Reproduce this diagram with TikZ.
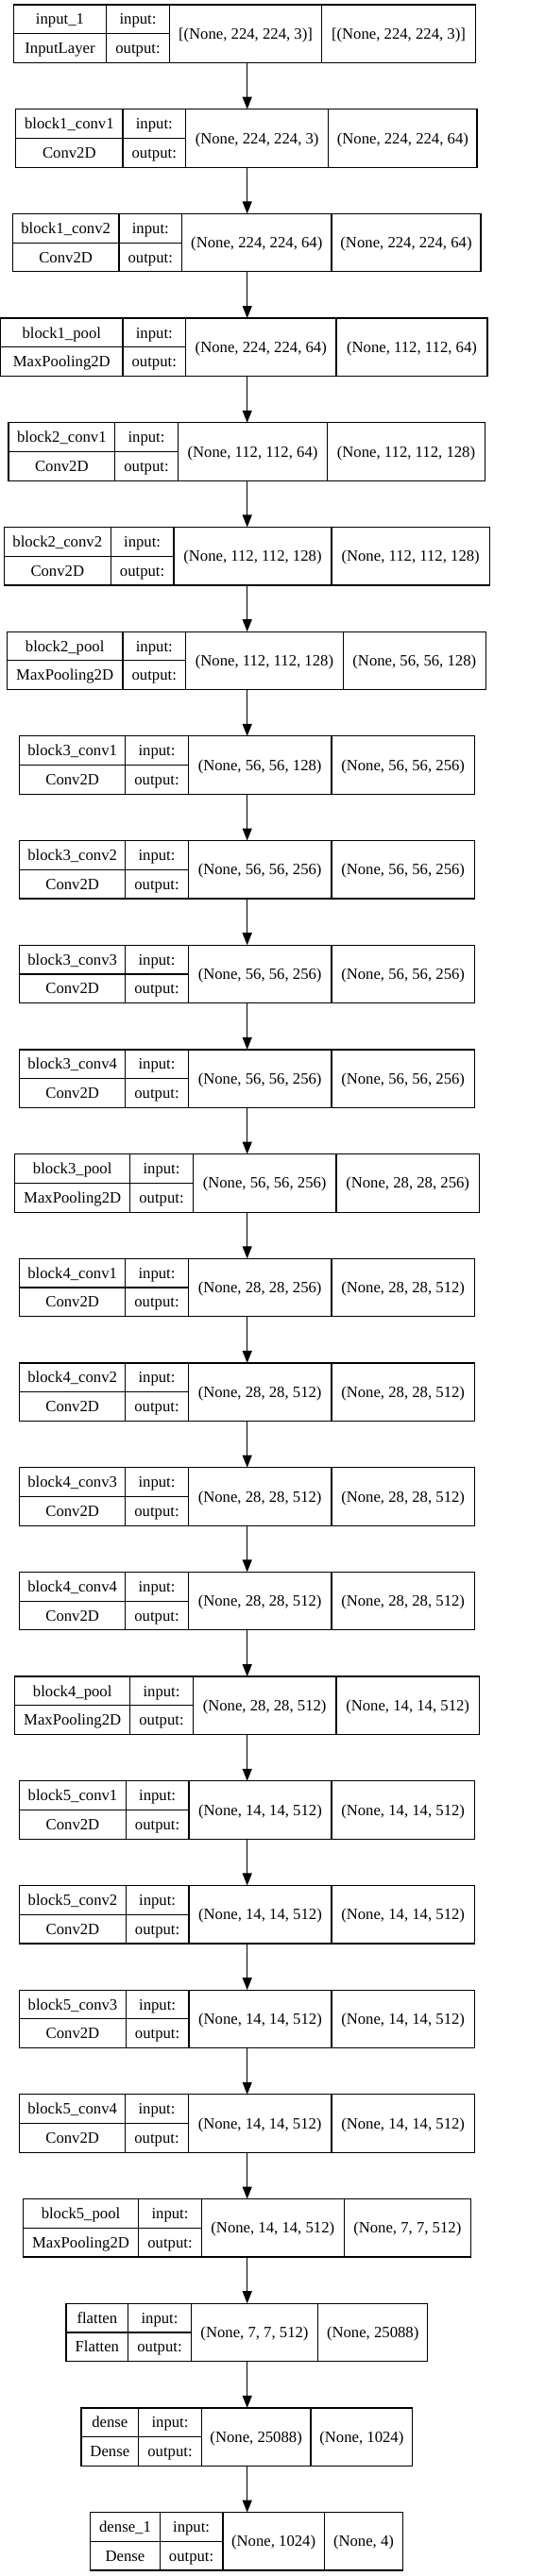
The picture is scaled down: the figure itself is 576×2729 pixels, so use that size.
\documentclass[tikz,border=0pt]{standalone}
\usepackage{fontspec}
\setmainfont{Liberation Serif}
\usetikzlibrary{arrows.meta}

\tikzset{
  rowbox/.style={draw, line width=1.2pt, inner sep=0pt, outer sep=0pt},
  cell/.style={inner sep=0pt, anchor=base},
  flow/.style={draw, line width=1.2pt, -{Triangle[length=13pt,width=10pt]}},
}

% one layer row: index, name, class, input shape, output shape, x of the cell borders
\newcommand{\layerrow}[9]{%
  \pgfmathsetmacro\rtop{5+110.69*#1}
  \pgfmathsetmacro\rbot{\rtop+61.5}
  \pgfmathsetmacro\rmid{\rtop+30.75}
  \pgfmathsetmacro\xtwo{#7+66.6}
  \node[rowbox, minimum width={(#9-#6)*1pt}, minimum height=61.5pt] (l#1) at ({(#6+#9)/2},\rmid) {};
  \draw[line width=1.2pt] (#7,\rtop) -- (#7,\rbot) (\xtwo,\rtop) -- (\xtwo,\rbot)
    (#8,\rtop) -- (#8,\rbot) (#6,\rmid) -- (\xtwo,\rmid);
  \node[cell] (l#1name) at ({(#6+#7)/2},{\rtop+21}) {#2};
  \node[cell] (l#1class) at ({(#6+#7)/2},{\rtop+51.7}) {#3};
  \node[cell] (l#1inlbl) at ({(#7+\xtwo)/2},{\rtop+21}) {input:};
  \node[cell] (l#1outlbl) at ({(#7+\xtwo)/2},{\rtop+51.7}) {output:};
  \node[cell] (l#1in) at ({(\xtwo+#8)/2},{\rmid+5.6}) {#4};
  \node[cell] (l#1out) at ({(#8+#9)/2},{\rmid+5.6}) {#5};
}

\begin{document}
\begin{tikzpicture}[x=1pt, y=-1pt, font=\fontsize{16.7}{20}\selectfont]
  \path[fill=white, use as bounding box] (0,0) rectangle (576,2729);
  \coordinate (axis) at (261.7,0);

  \layerrow{0}{input\_1}{InputLayer}{[(None, 224, 224, 3)]}{[(None, 224, 224, 3)]}{14.3}{112.7}{340.7}{503.3}
  \layerrow{1}{block1\_conv1}{Conv2D}{(None, 224, 224, 3)}{(None, 224, 224, 64)}{16.7}{130}{347.7}{505}
  \layerrow{2}{block1\_conv2}{Conv2D}{(None, 224, 224, 64)}{(None, 224, 224, 64)}{13.3}{126}{351}{509}
  \layerrow{3}{block1\_pool}{MaxPooling2D}{(None, 224, 224, 64)}{(None, 112, 112, 64)}{0.6}{130}{356}{516}
  \layerrow{4}{block2\_conv1}{Conv2D}{(None, 112, 112, 64)}{(None, 112, 112, 128)}{9}{121.7}{346.7}{513.3}
  \layerrow{5}{block2\_conv2}{Conv2D}{(None, 112, 112, 128)}{(None, 112, 112, 128)}{4.3}{117.3}{351}{518.3}
  \layerrow{6}{block2\_pool}{MaxPooling2D}{(None, 112, 112, 128)}{(None, 56, 56, 128)}{7.3}{130}{363.3}{514.3}
  \layerrow{7}{block3\_conv1}{Conv2D}{(None, 56, 56, 128)}{(None, 56, 56, 256)}{20.7}{132.7}{351}{502.3}
  \layerrow{8}{block3\_conv2}{Conv2D}{(None, 56, 56, 256)}{(None, 56, 56, 256)}{20.7}{132.7}{351}{502.3}
  \layerrow{9}{block3\_conv3}{Conv2D}{(None, 56, 56, 256)}{(None, 56, 56, 256)}{20.7}{132.7}{351}{502.3}
  \layerrow{10}{block3\_conv4}{Conv2D}{(None, 56, 56, 256)}{(None, 56, 56, 256)}{20.7}{132.7}{351}{502.3}
  \layerrow{11}{block3\_pool}{MaxPooling2D}{(None, 56, 56, 256)}{(None, 28, 28, 256)}{15.7}{137.7}{356}{507.3}
  \layerrow{12}{block4\_conv1}{Conv2D}{(None, 28, 28, 256)}{(None, 28, 28, 512)}{20.7}{132.7}{351}{502.3}
  \layerrow{13}{block4\_conv2}{Conv2D}{(None, 28, 28, 512)}{(None, 28, 28, 512)}{20.7}{132.7}{351}{502.3}
  \layerrow{14}{block4\_conv3}{Conv2D}{(None, 28, 28, 512)}{(None, 28, 28, 512)}{20.7}{132.7}{351}{502.3}
  \layerrow{15}{block4\_conv4}{Conv2D}{(None, 28, 28, 512)}{(None, 28, 28, 512)}{20.7}{132.7}{351}{502.3}
  \layerrow{16}{block4\_pool}{MaxPooling2D}{(None, 28, 28, 512)}{(None, 14, 14, 512)}{15.7}{137.7}{356}{507.3}
  \layerrow{17}{block5\_conv1}{Conv2D}{(None, 14, 14, 512)}{(None, 14, 14, 512)}{20.7}{133.3}{351}{502.3}
  \layerrow{18}{block5\_conv2}{Conv2D}{(None, 14, 14, 512)}{(None, 14, 14, 512)}{20.7}{133.3}{351}{502.3}
  \layerrow{19}{block5\_conv3}{Conv2D}{(None, 14, 14, 512)}{(None, 14, 14, 512)}{20.7}{133.3}{351}{502.3}
  \layerrow{20}{block5\_conv4}{Conv2D}{(None, 14, 14, 512)}{(None, 14, 14, 512)}{20.7}{132.7}{351}{502.3}
  \layerrow{21}{block5\_pool}{MaxPooling2D}{(None, 14, 14, 512)}{(None, 7, 7, 512)}{24.3}{146.7}{364.3}{498.3}
  \layerrow{22}{flatten}{Flatten}{(None, 7, 7, 512)}{(None, 25088)}{70}{135.7}{336.7}{452.7}
  \layerrow{23}{dense}{Dense}{(None, 25088)}{(None, 1024)}{86}{146.7}{329}{436.7}
  \layerrow{24}{dense\_1}{Dense}{(None, 1024)}{(None, 4)}{95.7}{169.3}{343.3}{426.7}

  \draw[flow] (l0.south -| axis) -- (l1.north -| axis);
  \draw[flow] (l1.south -| axis) -- (l2.north -| axis);
  \draw[flow] (l2.south -| axis) -- (l3.north -| axis);
  \draw[flow] (l3.south -| axis) -- (l4.north -| axis);
  \draw[flow] (l4.south -| axis) -- (l5.north -| axis);
  \draw[flow] (l5.south -| axis) -- (l6.north -| axis);
  \draw[flow] (l6.south -| axis) -- (l7.north -| axis);
  \draw[flow] (l7.south -| axis) -- (l8.north -| axis);
  \draw[flow] (l8.south -| axis) -- (l9.north -| axis);
  \draw[flow] (l9.south -| axis) -- (l10.north -| axis);
  \draw[flow] (l10.south -| axis) -- (l11.north -| axis);
  \draw[flow] (l11.south -| axis) -- (l12.north -| axis);
  \draw[flow] (l12.south -| axis) -- (l13.north -| axis);
  \draw[flow] (l13.south -| axis) -- (l14.north -| axis);
  \draw[flow] (l14.south -| axis) -- (l15.north -| axis);
  \draw[flow] (l15.south -| axis) -- (l16.north -| axis);
  \draw[flow] (l16.south -| axis) -- (l17.north -| axis);
  \draw[flow] (l17.south -| axis) -- (l18.north -| axis);
  \draw[flow] (l18.south -| axis) -- (l19.north -| axis);
  \draw[flow] (l19.south -| axis) -- (l20.north -| axis);
  \draw[flow] (l20.south -| axis) -- (l21.north -| axis);
  \draw[flow] (l21.south -| axis) -- (l22.north -| axis);
  \draw[flow] (l22.south -| axis) -- (l23.north -| axis);
  \draw[flow] (l23.south -| axis) -- (l24.north -| axis);
\end{tikzpicture}
\end{document}
